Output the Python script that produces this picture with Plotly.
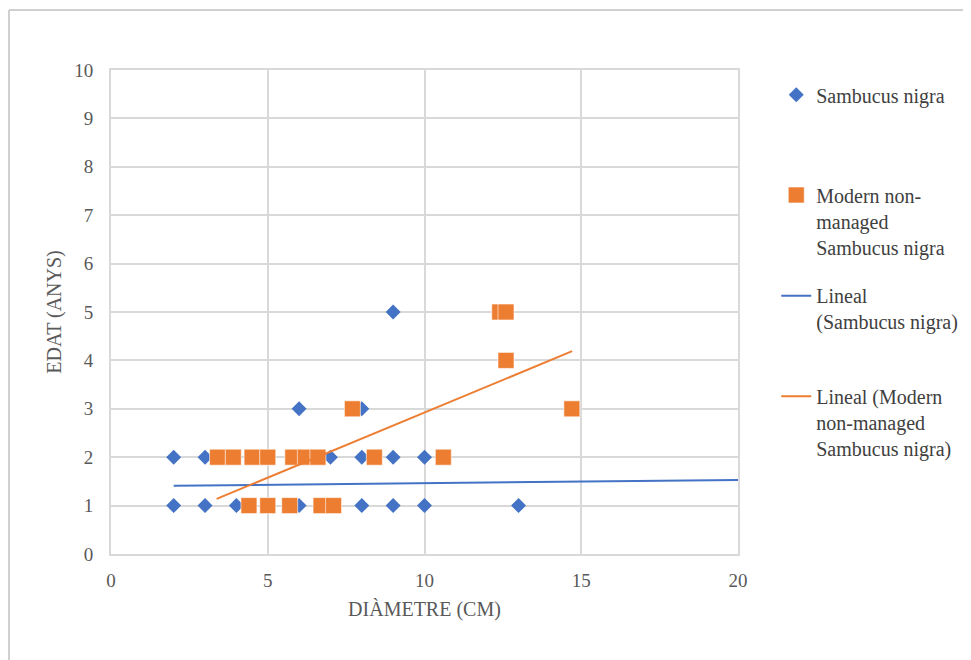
import plotly.graph_objects as go

# ---- data ----
sn_x = [2, 3, 7, 8, 9, 10,
        2, 3, 4, 6, 8, 9, 10, 13,
        6, 8,
        9]
sn_y = [2, 2, 2, 2, 2, 2,
        1, 1, 1, 1, 1, 1, 1, 1,
        3, 3,
        5]

mod_x = [3.4, 3.9, 4.5, 5.0, 5.8, 6.2, 6.6, 8.4, 10.6,
         4.4, 5.0, 5.7, 6.7, 7.1,
         7.7, 14.7,
         12.6,
         12.4, 12.6]
mod_y = [2, 2, 2, 2, 2, 2, 2, 2, 2,
         1, 1, 1, 1, 1,
         3, 3,
         4,
         5, 5]

# linear trend lines as drawn in the reference (end points)
sn_trend_x = [2, 20]
sn_trend_y = [1.41, 1.53]
mod_trend_x = [3.37, 14.71]
mod_trend_y = [1.14, 4.19]

x_ticks = [0, 5, 10, 15, 20]
y_ticks = list(range(0, 11))

names = ["Sambucus nigra",
         "Modern non-<br>managed<br>Sambucus nigra",
         "Lineal<br>(Sambucus nigra)",
         "Lineal (Modern<br>non-managed<br>Sambucus nigra)"]

BLUE = "#4472C4"
ORANGE = "#ED7D31"
GRID = "#d9d9d9"
FONT = "Liberation Serif"

fig = go.Figure()
fig.add_trace(go.Scatter(x=sn_x, y=sn_y, mode="markers", name=names[0],
                         marker=dict(symbol="diamond", size=11.5, color=BLUE),
                         legend="legend"))
fig.add_trace(go.Scatter(x=mod_x, y=mod_y, mode="markers", name=names[1],
                         marker=dict(symbol="square", size=16, color=ORANGE,
                                     line=dict(color="white", width=0.6)),
                         legend="legend2"))
fig.add_trace(go.Scatter(x=sn_trend_x, y=sn_trend_y, mode="lines", name=names[2],
                         line=dict(color=BLUE, width=2), legend="legend3"))
fig.add_trace(go.Scatter(x=mod_trend_x, y=mod_trend_y, mode="lines", name=names[3],
                         line=dict(color=ORANGE, width=2), legend="legend4"))

leg_common = dict(x=1.061, xanchor="left", yanchor="top", valign="top",
                  font=dict(family=FONT, size=20, color="#404040"),
                  bgcolor="rgba(0,0,0,0)", borderwidth=0)

# the page body has an 8px default margin, so the figure is offset to compensate;
# it is made a little wider than the window so the legends do not push the margin
fig.update_layout(
    width=985, height=652,
    margin=dict(l=103, r=255, t=62, b=106),
    paper_bgcolor="white", plot_bgcolor="white",
    font=dict(family=FONT, size=19, color="#595959"),
    showlegend=True,
    legend=dict(y=0.989, **leg_common),
    legend2=dict(y=0.782, **leg_common),
    legend3=dict(y=0.574, **leg_common),
    legend4=dict(y=0.366, **leg_common),
    xaxis=dict(range=[0, 20], tickvals=x_ticks, showgrid=True, gridcolor=GRID,
               gridwidth=2, zeroline=False, showline=True, linecolor=GRID,
               linewidth=2, mirror=True, ticks="", ticklabelstandoff=8,
               tickfont=dict(family=FONT, size=19, color="#595959"),
               title=dict(text="DIÀMETRE (CM)", standoff=12,
                          font=dict(family=FONT, size=20, color="#595959"))),
    yaxis=dict(range=[0, 10], tickvals=y_ticks, showgrid=True, gridcolor=GRID,
               gridwidth=2, zeroline=False, showline=True, linecolor=GRID,
               linewidth=2, mirror=True, ticks="", ticklabelstandoff=12,
               tickfont=dict(family=FONT, size=19, color="#595959"),
               title=dict(text="EDAT (ANYS)", standoff=7,
                          font=dict(family=FONT, size=20, color="#595959"))),
    shapes=[
        dict(type="line", xref="paper", yref="paper", x0=-0.1627, x1=-0.1627,
             y0=-0.3, y1=1.124, line=dict(color="#d0d0d0", width=2)),
        dict(type="line", xref="paper", yref="paper", x0=-0.1627, x1=1.45,
             y0=1.124, y1=1.124, line=dict(color="#d0d0d0", width=2)),
    ],
)

fig.write_html("out.html")
